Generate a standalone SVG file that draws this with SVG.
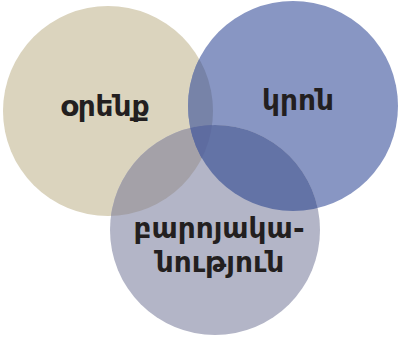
<svg xmlns="http://www.w3.org/2000/svg" width="398" height="337" viewBox="0 0 398 337">
<defs>
<style>
.lbl{font-family:"DejaVu Sans","Noto Sans",sans-serif;font-weight:bold;font-size:28px;fill:#231F20;text-anchor:middle}
</style>
<clipPath id="cT"><circle cx="108" cy="111" r="105"/></clipPath>
<clipPath id="cB"><circle cx="293" cy="106" r="105"/></clipPath>
<clipPath id="cTB"><circle cx="108" cy="111" r="105" clip-path="url(#cB)"/></clipPath>
</defs>
<rect width="398" height="337" fill="#FFFFFF"/>
<g id="law"><circle cx="108" cy="111" r="105" fill="#DBD4BE"/></g>
<g id="religion"><circle cx="293" cy="106" r="105" fill="#8896C3"/></g>
<g id="morality"><circle cx="215" cy="230" r="105" fill="#B3B5C7"/></g>
<g id="overlaps">
<circle cx="293" cy="106" r="105" fill="#7783A8" clip-path="url(#cT)"/>
<circle cx="215" cy="230" r="105" fill="#A4A1A8" clip-path="url(#cT)"/>
<circle cx="215" cy="230" r="105" fill="#6373A6" clip-path="url(#cB)"/>
<circle cx="215" cy="230" r="105" fill="#5E6CA0" clip-path="url(#cTB)"/>
</g>
<g id="labels">
<text class="lbl" x="105" y="116">օրենք</text>
<text class="lbl" x="298" y="110">կրոն</text>
<text class="lbl" x="219" y="238">բարոյակա-</text>
<text class="lbl" x="220" y="272">նություն</text>
</g>
</svg>
